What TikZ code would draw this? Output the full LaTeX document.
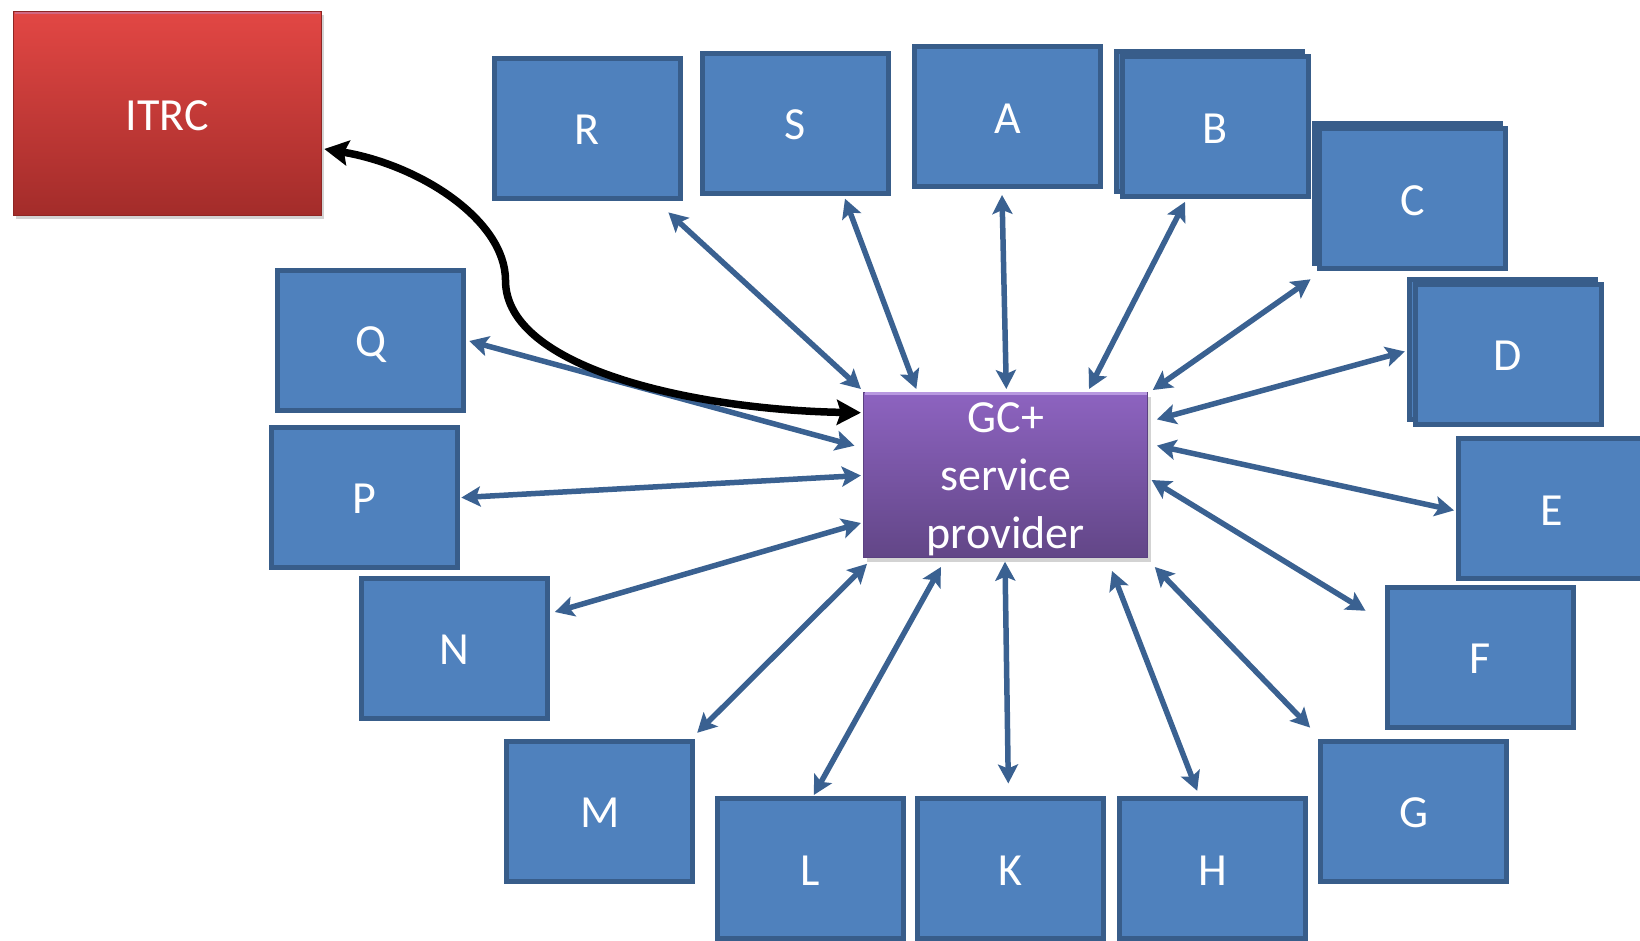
\documentclass[tikz,border=0pt]{standalone}
\usepackage{fontspec}
\setmainfont{Carlito}
\usetikzlibrary{arrows.meta,shadows}

\definecolor{boxfill}{HTML}{4F81BD}
\definecolor{boxline}{HTML}{385D8A}
\definecolor{linkcol}{HTML}{3A6191}
\definecolor{gctop}{HTML}{8D63C0}
\definecolor{gcbot}{HTML}{624687}
\definecolor{gcline}{HTML}{5B4181}
\definecolor{gclight}{HTML}{B898E0}
\definecolor{redtop}{HTML}{E24744}
\definecolor{redbot}{HTML}{A32C2A}
\definecolor{redline}{HTML}{8E2624}
\newcommand\labelfont{\fontsize{46}{58}\selectfont}

\begin{document}
\begin{tikzpicture}[x=1pt,y=-1pt,
  unit/.style={draw=boxline, line width=5pt, fill=boxfill,
    minimum width=186pt, minimum height=140pt, inner sep=0pt,
    text height=33pt, text depth=0pt,
    text=white, font=\labelfont},
  core/.style={draw=gcline, line width=1.2pt, top color=gctop, bottom color=gcbot,
    minimum width=284pt, minimum height=165pt, inner sep=0pt, align=center,
    text depth=-3pt,
    text=white, font=\labelfont,
    drop shadow={opacity=0.35, shadow xshift=3pt, shadow yshift=-4pt}},
  centre/.style={draw=redline, line width=1.2pt, top color=redtop, bottom color=redbot,
    minimum width=308pt, minimum height=204pt, inner sep=0pt,
    text height=34pt, text depth=0pt,
    text=white, font=\labelfont,
    drop shadow={opacity=0.35, shadow xshift=3pt, shadow yshift=-4pt}},
  twoway/.style={draw=linkcol, line width=5.5pt,
    {Stealth[length=19pt,width=20pt,inset=4pt]}-{Stealth[length=19pt,width=20pt,inset=4pt]}},
  report/.style={draw=black, line width=7.5pt,
    {Stealth[length=24pt,width=25pt,inset=4pt]}-{Stealth[length=24pt,width=25pt,inset=4pt]}},
  ]
\clip (0,0) rectangle (1640,941);

% external centre
\node[centre] (itrc) at (167.3,113.5) {ITRC};
\draw[gclight!40!redtop, line width=2pt] ([shift={(2,2)}]itrc.north west) -- ([shift={(-2,2)}]itrc.north east);

% participants, top row
\node[unit] (r) at (587.3,128.1) {R};
\node[unit] (s) at (795,123.4) {S};
\node[unit] (a) at (1007.8,116.6) {A};
\node[unit] (bback) at (1209.2,121.7) {};
\node[unit] (b) at (1215.4,127) {B};
\node[unit] (cback) at (1407.7,193.5) {};
\node[unit] (c) at (1412.9,198.9) {C};
\node[unit] (dback) at (1502.6,349.4) {};
\node[unit] (d) at (1508,354.4) {D};

% right side
\node[unit] (e) at (1551.5,508.8) {E};
\node[unit] (f) at (1480,657.4) {F};
\node[unit] (g) at (1413.5,811.2) {G};

% bottom row
\node[unit] (h) at (1212.5,868.5) {H};
\node[unit] (k) at (1010.5,868.5) {K};
\node[unit] (l) at (810.6,868.5) {L};
\node[unit] (m) at (599.8,811.2) {M};

% left side
\node[unit] (n) at (454.5,648) {N};
\node[unit] (p) at (364.5,497.4) {P};
\node[unit] (q) at (370.8,340.4) {Q};

% service provider
\node[core] (gc) at (1005.8,475.3) {GC+\\service\\provider};
\draw[gclight, line width=2.5pt] ([shift={(1.5,1.5)}]gc.north west) -- ([shift={(-1.5,1.5)}]gc.north east);

% two-way links to the provider
\draw[twoway] ([shift={(-144.9,-86.3)}]gc.center) -- ([shift={(81.1,84.3)}]r.center);
\draw[twoway] ([shift={(-89.5,-86.3)}]gc.center) -- ([shift={(50,75.3)}]s.center);
\draw[twoway] ([shift={(0.5,-86.3)}]gc.center) -- ([shift={(-5.8,78.4)}]a.center);
\draw[twoway] ([shift={(83.2,-86.3)}]gc.center) -- ([shift={(-30.4,74.9)}]b.center);
\draw[twoway] ([shift={(146.9,-85.3)}]gc.center) -- ([shift={(-102.3,80.4)}]c.center);
\draw[twoway] ([shift={(151.1,-55.9)}]gc.center) -- ([shift={(-103.2,-2.9)}]d.center);
\draw[twoway] ([shift={(151.1,-29.7)}]gc.center) -- ([shift={(-97.5,1.6)}]e.center);
\draw[twoway] ([shift={(145.8,4.7)}]gc.center) -- ([shift={(-114.5,-46.6)}]f.center);
\draw[twoway] ([shift={(149,91.7)}]gc.center) -- ([shift={(-103.4,-83.6)}]g.center);
\draw[twoway] ([shift={(106.2,95.7)}]gc.center) -- ([shift={(-15.3,-77.7)}]h.center);
\draw[twoway] ([shift={(-0.8,86.4)}]gc.center) -- ([shift={(-2.2,-85)}]k.center);
\draw[twoway] ([shift={(-64.9,91.7)}]gc.center) -- ([shift={(3.2,-73.5)}]l.center);
\draw[twoway] ([shift={(-138.8,88.5)}]gc.center) -- ([shift={(97.4,-78.4)}]m.center);
\draw[twoway] ([shift={(-144.9,47.7)}]gc.center) -- ([shift={(100.4,-36)}]n.center);
\draw[twoway] ([shift={(-144.9,0.2)}]gc.center) -- ([shift={(96.8,0.2)}]p.center);
\draw[twoway] ([shift={(-151.3,-29.6)}]gc.center) -- ([shift={(98.4,0.6)}]q.center);

% reporting link to the external centre
\coordinate (bend) at (505.5,280);
\draw[report] ([shift={(-144.9,-62.6)}]gc.center)
  .. controls (700,410) and (505,370) .. (bend)
  .. controls (505,220) and (420,165) .. ([shift={(157,35.5)}]itrc.center);
\end{tikzpicture}
\end{document}
